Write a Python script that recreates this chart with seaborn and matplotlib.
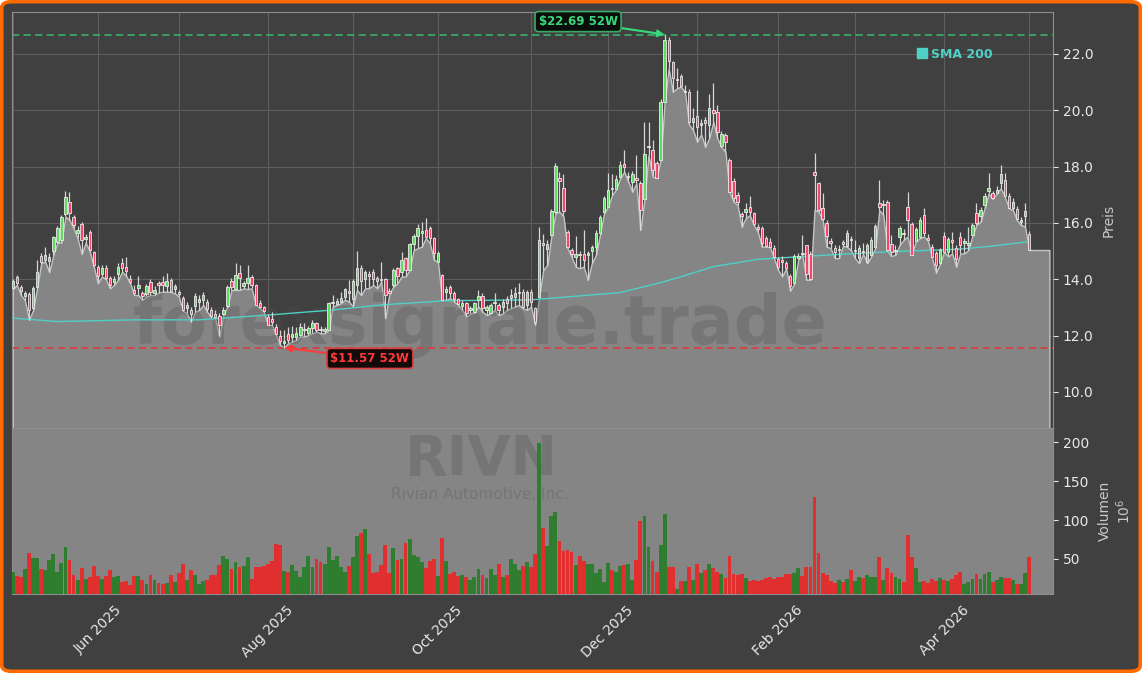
import numpy as np
import pandas as pd
import matplotlib
matplotlib.use("Agg")
import matplotlib.pyplot as plt
import seaborn as sns
from matplotlib.lines import Line2D
from matplotlib.patches import FancyBboxPatch
from matplotlib.ticker import FormatStrFormatter

# DATA
TICKER = "RIVN"
COMPANY = "Rivian Automotive, Inc."
WATERMARK = "forexsignale.trade"

START, END = "2025-05-01", "2026-05-01"
HOLIDAYS = ["2025-05-26", "2025-06-19", "2025-07-04", "2025-09-01", "2025-11-27",
            "2025-12-25", "2026-01-01", "2026-01-19", "2026-02-16", "2026-04-03"]

OPEN = [
    13.70, 14.07, 13.72, 13.40, 13.47, 12.97, 13.72, 14.82, 14.70, 14.65,
    15.00, 15.34, 15.40, 16.32, 16.74, 16.20, 15.65, 15.97, 15.42, 15.68,
    14.96, 14.43, 14.19, 14.39, 14.04, 13.92, 14.20, 14.59, 14.45, 14.00,
    13.62, 13.70, 13.50, 13.48, 13.92, 13.53, 13.86, 13.92, 13.76, 13.98,
    13.65, 13.56, 13.33, 12.97, 12.91, 13.05, 13.20, 13.25, 13.20, 12.90,
    12.78, 12.70, 12.77, 13.05, 13.95, 13.65, 14.24, 13.75, 13.86, 14.07,
    13.80, 13.15, 13.00, 12.65, 12.60, 12.30, 12.00, 11.75, 12.05, 11.95,
    11.94, 12.03, 12.20, 12.08, 12.26, 12.46, 12.25, 12.15, 12.20, 13.15,
    13.13, 13.21, 13.36, 13.60, 13.30, 13.80, 14.39, 14.00, 14.20, 14.25,
    14.05, 14.00, 14.00, 13.60, 13.80, 14.39, 14.27, 14.75, 14.33, 15.24,
    15.54, 15.66, 15.75, 15.81, 15.46, 14.63, 14.16, 13.56, 13.74, 13.53,
    13.29, 13.05, 13.15, 12.90, 12.85, 13.27, 13.42, 12.90, 12.82, 13.15,
    13.09, 13.00, 13.30, 13.35, 13.38, 13.50, 13.56, 13.09, 13.56, 12.97,
    13.38, 15.30, 15.07, 15.57, 16.40, 17.60, 17.23, 15.69, 15.04, 14.80,
    14.90, 14.90, 14.85, 15.00, 15.16, 15.63, 16.40, 16.58, 17.25, 17.21,
    17.64, 18.08, 17.62, 17.47, 17.60, 17.41, 16.85, 18.68, 18.60, 18.12,
    18.24, 20.31, 22.50, 21.70, 21.08, 21.23, 20.66, 20.66, 19.60, 19.81,
    19.48, 19.66, 19.48, 20.00, 19.93, 18.75, 19.12, 18.24, 17.50, 17.00,
    16.31, 16.40, 16.55, 16.34, 15.87, 15.83, 15.46, 15.34, 15.10, 14.71,
    14.70, 14.57, 14.12, 13.88, 14.75, 14.95, 15.20, 14.90, 17.80, 17.43,
    16.52, 15.99, 15.37, 15.10, 15.05, 15.34, 15.18, 15.42, 15.00, 14.75,
    15.02, 14.63, 14.86, 15.14, 16.70, 16.62, 16.76, 15.25, 15.00, 15.51,
    15.63, 16.56, 15.97, 15.37, 15.49, 16.29, 15.45, 15.16, 14.92, 14.57,
    15.54, 14.98, 15.40, 15.10, 15.49, 15.30, 15.20, 15.57, 16.34, 16.23,
    16.64, 17.14, 17.05, 17.08, 17.41, 17.53, 16.96, 16.52, 16.49, 16.05,
    16.23, 15.61,
]
HIGH = [
    14.00, 14.15, 13.80, 13.60, 13.55, 13.75, 14.69, 14.95, 15.16, 14.95,
    15.55, 15.90, 16.30, 17.15, 17.10, 16.30, 15.90, 16.05, 15.60, 15.75,
    15.00, 14.50, 14.50, 14.50, 14.10, 14.10, 14.57, 14.75, 14.78, 14.15,
    13.80, 14.10, 13.60, 13.85, 14.00, 13.75, 13.95, 14.10, 14.21, 14.05,
    13.85, 13.62, 13.40, 13.20, 13.00, 13.50, 13.45, 13.56, 13.30, 13.00,
    12.90, 12.80, 13.00, 13.80, 14.05, 14.57, 14.50, 13.95, 14.51, 14.15,
    13.85, 13.25, 13.05, 12.75, 12.85, 12.40, 12.20, 12.20, 12.30, 12.35,
    12.30, 12.45, 12.45, 12.35, 12.55, 12.50, 12.35, 12.30, 13.20, 13.44,
    13.35, 13.56, 13.70, 13.98, 14.00, 15.02, 14.50, 14.33, 14.30, 14.35,
    14.10, 14.63, 14.05, 13.70, 14.39, 14.45, 14.98, 14.80, 15.30, 15.60,
    15.96, 16.05, 16.17, 15.90, 15.50, 15.00, 14.20, 13.75, 13.80, 13.60,
    13.35, 13.25, 13.20, 13.05, 13.20, 13.62, 13.50, 13.10, 13.15, 13.50,
    13.15, 13.30, 13.40, 13.64, 13.74, 13.88, 13.65, 13.62, 13.65, 13.00,
    15.85, 15.60, 15.40, 16.50, 18.12, 17.80, 17.75, 15.75, 15.10, 15.52,
    15.00, 15.75, 15.00, 15.22, 15.75, 16.30, 16.95, 17.79, 17.75, 17.70,
    18.20, 18.59, 17.80, 17.85, 18.41, 17.50, 19.60, 19.60, 18.95, 18.20,
    20.40, 22.69, 22.60, 21.75, 21.51, 21.30, 20.90, 20.75, 20.07, 20.72,
    19.70, 19.75, 20.57, 20.96, 20.19, 19.25, 19.20, 18.30, 17.60, 17.10,
    16.40, 16.70, 16.94, 16.40, 15.95, 15.90, 15.55, 15.45, 15.20, 14.80,
    14.81, 14.65, 14.20, 14.90, 14.95, 15.57, 15.22, 15.00, 18.47, 17.47,
    17.08, 16.10, 15.45, 15.20, 15.20, 15.40, 15.75, 15.55, 15.40, 15.20,
    15.30, 15.30, 15.50, 15.95, 17.53, 16.82, 16.82, 15.57, 15.20, 15.90,
    15.80, 17.11, 16.05, 15.85, 16.20, 16.52, 15.60, 15.25, 15.00, 15.10,
    15.69, 15.50, 15.69, 15.20, 15.69, 15.45, 15.87, 16.00, 16.72, 16.55,
    17.05, 17.76, 17.15, 17.30, 18.06, 17.76, 17.05, 16.90, 16.60, 16.20,
    16.70, 15.70,
]
LOW = [
    13.65, 13.80, 13.45, 13.25, 12.56, 12.90, 13.70, 14.57, 14.63, 14.25,
    14.86, 15.30, 15.30, 16.23, 16.11, 15.81, 15.46, 14.90, 15.30, 15.00,
    14.45, 13.86, 14.10, 14.00, 13.68, 13.80, 13.98, 14.27, 14.12, 13.86,
    13.44, 13.44, 13.27, 13.39, 13.44, 13.44, 13.53, 13.56, 13.56, 13.55,
    13.50, 13.39, 12.88, 12.79, 12.50, 12.85, 12.91, 13.09, 12.85, 12.65,
    12.62, 11.97, 12.73, 13.03, 13.62, 13.62, 13.62, 13.68, 13.65, 13.68,
    13.09, 12.97, 12.85, 12.38, 12.38, 12.02, 11.67, 11.57, 11.73, 11.79,
    11.85, 11.97, 11.97, 12.02, 12.08, 12.14, 12.08, 12.08, 12.20, 13.03,
    13.09, 13.15, 13.27, 13.21, 13.03, 13.62, 13.44, 13.68, 13.68, 13.80,
    13.68, 13.92, 12.62, 13.50, 13.74, 13.86, 14.10, 14.10, 14.33, 15.04,
    15.10, 15.16, 15.46, 15.28, 14.69, 14.63, 13.27, 13.27, 13.33, 13.21,
    13.09, 12.91, 12.68, 12.79, 12.82, 13.03, 12.85, 12.73, 12.79, 12.91,
    12.73, 12.79, 12.91, 12.97, 13.03, 13.09, 12.97, 12.91, 13.03, 12.38,
    13.38, 14.33, 14.51, 15.52, 16.34, 16.40, 16.23, 15.10, 14.80, 14.45,
    14.39, 14.45, 13.98, 14.57, 14.86, 15.57, 16.34, 16.58, 16.99, 17.20,
    17.59, 17.82, 17.47, 17.11, 17.41, 15.75, 16.85, 18.41, 17.65, 17.59,
    18.24, 20.31, 21.49, 20.66, 20.78, 20.84, 20.66, 19.50, 19.30, 18.89,
    19.15, 18.71, 19.01, 19.60, 19.01, 18.70, 18.53, 17.11, 16.76, 16.64,
    15.87, 16.17, 16.28, 15.93, 15.69, 15.16, 15.16, 15.14, 14.75, 14.33,
    14.10, 14.39, 13.60, 13.85, 14.71, 14.87, 13.98, 13.98, 16.46, 16.40,
    16.11, 15.16, 15.10, 14.75, 14.75, 15.18, 15.16, 15.04, 14.75, 14.57,
    14.90, 14.57, 14.81, 15.10, 16.46, 16.28, 15.00, 14.83, 14.87, 15.22,
    15.40, 15.52, 14.86, 15.35, 15.46, 15.52, 15.38, 14.78, 14.24, 14.55,
    14.98, 14.81, 14.92, 14.45, 14.92, 14.92, 15.04, 15.55, 15.93, 16.05,
    16.52, 17.05, 16.85, 17.05, 17.23, 16.94, 16.52, 16.46, 16.10, 15.93,
    15.87, 15.04,
]
CLOSE = [
    13.95, 13.86, 13.57, 13.50, 12.90, 13.68, 14.27, 14.62, 14.85, 14.80,
    15.50, 15.81, 16.20, 16.91, 16.34, 15.91, 15.75, 15.40, 15.49, 15.04,
    14.51, 14.12, 14.39, 14.04, 13.78, 14.00, 14.45, 14.39, 14.30, 13.90,
    13.50, 13.80, 13.39, 13.76, 13.56, 13.62, 13.80, 13.80, 13.95, 13.59,
    13.76, 13.48, 12.91, 13.09, 12.77, 13.40, 13.30, 13.45, 12.95, 12.70,
    12.65, 12.38, 12.91, 13.72, 13.72, 14.15, 14.04, 13.86, 14.04, 13.80,
    13.09, 13.03, 12.89, 12.38, 12.50, 12.05, 11.80, 11.80, 11.85, 12.05,
    12.08, 12.32, 12.25, 12.26, 12.44, 12.20, 12.20, 12.25, 13.15, 13.20,
    13.24, 13.33, 13.65, 13.50, 13.95, 14.40, 13.95, 14.27, 14.10, 14.00,
    13.95, 13.98, 13.44, 13.50, 14.33, 14.10, 14.69, 14.33, 15.24, 15.52,
    15.81, 15.72, 15.50, 15.46, 14.92, 14.95, 13.27, 13.65, 13.53, 13.29,
    13.13, 13.15, 12.82, 12.97, 13.15, 13.42, 12.97, 13.00, 13.09, 13.20,
    12.90, 13.20, 13.15, 13.45, 13.50, 13.55, 13.00, 13.56, 13.21, 12.50,
    15.40, 15.22, 15.25, 16.43, 18.02, 17.50, 16.44, 15.14, 14.90, 14.90,
    14.85, 14.70, 14.92, 15.16, 15.63, 16.20, 16.88, 17.17, 17.20, 17.56,
    18.06, 17.97, 17.65, 17.73, 17.53, 16.46, 18.44, 18.72, 17.88, 17.61,
    20.31, 22.50, 21.75, 21.16, 21.12, 20.88, 20.68, 19.57, 19.72, 19.42,
    19.54, 19.55, 20.07, 19.90, 19.22, 19.15, 18.86, 17.11, 16.90, 16.75,
    16.23, 16.50, 16.40, 15.95, 15.79, 15.28, 15.18, 15.14, 14.78, 14.45,
    14.60, 14.39, 13.76, 14.81, 14.83, 14.90, 14.20, 14.00, 17.70, 16.46,
    16.13, 15.52, 15.28, 14.98, 15.08, 15.25, 15.63, 15.40, 15.04, 15.10,
    14.98, 15.22, 15.40, 15.89, 16.56, 16.66, 15.04, 14.98, 15.04, 15.81,
    15.60, 16.11, 14.86, 15.78, 16.11, 15.63, 15.40, 14.78, 14.51, 15.04,
    14.98, 15.42, 15.31, 14.71, 15.22, 15.35, 15.30, 15.93, 15.99, 16.46,
    16.94, 17.23, 16.88, 17.17, 17.74, 16.94, 16.52, 16.76, 16.13, 16.08,
    16.44, 15.04,
]
# volume in millions of shares
VOLUME = [
    33.7, 28.6, 27.3, 37.2, 58.1, 51.7, 51.7, 37.2, 35.9, 48.7,
    56.4, 33.7, 45.3, 65.8, 48.7, 29.5, 23.1, 38.4, 23.9, 27.3,
    41.0, 28.6, 24.3, 28.6, 35.9, 26.5, 28.6, 20.9, 21.8, 17.1,
    28.6, 28.6, 23.1, 18.3, 29.9, 23.1, 19.6, 17.5, 19.6, 29.9,
    20.9, 32.5, 43.6, 23.1, 35.9, 29.5, 18.3, 21.8, 23.1, 29.5,
    29.5, 42.3, 53.8, 50.4, 37.2, 46.1, 40.1, 41.0, 52.5, 24.3,
    40.1, 39.7, 41.0, 43.6, 47.4, 69.2, 68.3, 34.6, 33.3, 42.3,
    34.6, 27.3, 40.1, 53.8, 40.1, 50.4, 46.1, 44.0, 65.4, 48.7,
    53.8, 40.1, 33.3, 41.0, 52.5, 79.5, 83.7, 88.4, 56.4, 32.5,
    33.3, 42.3, 67.9, 32.1, 64.1, 48.7, 50.4, 70.5, 75.6, 55.1,
    53.0, 46.1, 38.4, 47.4, 50.0, 28.6, 76.9, 47.4, 30.7, 33.3,
    28.6, 29.5, 26.9, 23.1, 26.9, 37.2, 29.5, 26.0, 37.2, 29.5,
    43.6, 26.9, 29.5, 50.0, 43.6, 35.9, 41.0, 46.1, 39.7, 56.4,
    198.7, 89.7, 66.6, 105.1, 110.2, 73.1, 60.2, 61.5, 58.5, 42.3,
    53.8, 47.4, 43.2, 43.6, 32.5, 37.2, 20.5, 44.9, 35.4, 33.3,
    41.0, 42.7, 43.6, 23.1, 48.7, 98.7, 105.1, 65.4, 47.4, 33.3,
    67.9, 107.7, 39.7, 39.7, 11.5, 21.8, 21.8, 39.7, 23.1, 43.6,
    32.1, 35.9, 43.6, 38.4, 33.3, 30.7, 25.6, 53.8, 30.7, 29.5,
    30.7, 25.6, 21.8, 23.1, 21.8, 23.1, 25.2, 26.9, 24.3, 26.9,
    26.9, 30.7, 30.7, 32.1, 38.4, 28.2, 39.7, 39.7, 129.5, 57.7,
    32.1, 29.5, 21.8, 19.2, 23.1, 20.5, 24.3, 35.9, 21.8, 26.9,
    25.6, 29.5, 26.9, 26.9, 52.5, 23.1, 38.4, 32.1, 26.9, 24.3,
    20.5, 80.8, 52.5, 38.4, 20.5, 21.8, 19.2, 24.3, 21.8, 25.6,
    23.1, 21.8, 24.3, 29.5, 33.3, 17.9, 20.5, 24.3, 30.7, 24.3,
    30.7, 33.3, 20.5, 23.1, 26.9, 25.6, 25.6, 23.1, 17.9, 17.9,
    32.1, 52.5,
]
# 200-day simple moving average, sampled along the trading-day axis
SMA_IDX = [0, 11, 30, 46, 63, 79, 91, 107, 128, 140, 150, 160, 165, 173, 184, 201, 217, 234, 242, 251]
SMA_VAL = [12.62, 12.50, 12.56, 12.56, 12.73, 12.91, 13.09, 13.24, 13.27, 13.41,
           13.53, 13.88, 14.09, 14.45, 14.71, 14.86, 14.98, 15.07, 15.18, 15.34]

# STYLE
BG = "#404040"
FILL = "#858585"
LOWLINE = "#c4c4c4"
GRID = "#5e5e5e"
SPINE = "#8e8e8e"
TXT = "#e8e8e8"
LABEL = "#c8c8c8"
TEAL = "#4fd0c6"
UP_BODY, DOWN_BODY = "#63d963", "#f5466e"
BODY_EDGE, WICK = "#ececec", "#d6d6d6"
VOL_UP, VOL_DOWN = "#228b22", "#ff1010"
GREEN, GREEN_DASH = "#38d97c", "#3aa866"
RED, RED_DASH = "#ff3a3a", "#d84040"
ORANGE = "#ff6a00"
MARK = "#505050"
FILL_PAD = 5

sns.set_theme(style="dark")
plt.rcParams["font.family"] = ["DejaVu Sans"]

dates = pd.bdate_range(START, END, freq="C", holidays=HOLIDAYS)
idx = np.arange(len(dates))
open_, high, low, close = (np.array(a) for a in (OPEN, HIGH, LOW, CLOSE))
up = close >= open_

W_PX, H_PX = 1142, 673
fig = plt.figure(figsize=(W_PX / 100, H_PX / 100), dpi=100)
fig.patch.set_facecolor("white")
fig.add_artist(FancyBboxPatch((0.0015, 0.0025), 0.997, 0.995,
                              boxstyle="round,pad=0,rounding_size=0.009",
                              transform=fig.transFigure, facecolor=BG,
                              edgecolor=ORANGE, linewidth=2.6, zorder=-5))

left, width = 12 / W_PX, 1041 / W_PX
ax = fig.add_axes([left, 1 - 428 / H_PX, width, 416 / H_PX])
axv = fig.add_axes([left, 1 - 594 / H_PX, width, 166 / H_PX], sharex=ax)

# price panel
ax.set_facecolor(BG)
x_fill = np.arange(len(low) + FILL_PAD)
y_fill = np.concatenate([low, np.repeat(low[-1], FILL_PAD)])
ax.fill_between(x_fill, y_fill, 0, facecolor=FILL, edgecolor=LOWLINE, linewidth=1.0, zorder=1)

ax.text(0.4496, 0.2476, WATERMARK, transform=ax.transAxes, fontsize=48, fontweight="bold",
        color=MARK, alpha=0.3, ha="center", va="center", zorder=2)

sns.lineplot(x=SMA_IDX, y=SMA_VAL, ax=ax, color=TEAL, linewidth=1.0, zorder=3)

ax.vlines(idx, low, high, color=WICK, linewidth=0.9, zorder=4)
ax.bar(idx, np.maximum(np.abs(close - open_), 0.04), bottom=np.minimum(open_, close),
       width=0.6, color=np.where(up, UP_BODY, DOWN_BODY), edgecolor=BODY_EDGE,
       linewidth=0.6, zorder=5)

hi_i, lo_i = int(np.argmax(high)), int(np.argmin(low))
hi, lo = high[hi_i], low[lo_i]
ax.axhline(hi, color=GREEN_DASH, linestyle=(0, (4, 2.4)), linewidth=1.3, zorder=2.5)
ax.axhline(lo, color=RED_DASH, linestyle=(0, (4, 2.4)), linewidth=1.3, zorder=2.5)

ax.annotate(f"\\${hi:.2f} 52W", xy=(hi_i, hi), xytext=(139.6, 23.15),
            ha="center", va="center", fontsize=8.5, fontweight="bold", color=GREEN,
            bbox=dict(boxstyle="round,pad=0.3", fc="#0b0f0c", ec=GREEN_DASH, lw=1.2),
            arrowprops=dict(arrowstyle="-|>", color=GREEN, lw=1.5, mutation_scale=10,
                            shrinkA=0, shrinkB=0), zorder=8)
ax.annotate(f"\\${lo:.2f} 52W", xy=(lo_i, lo), xytext=(88.2, 11.19),
            ha="center", va="center", fontsize=8.5, fontweight="bold", color=RED,
            bbox=dict(boxstyle="round,pad=0.3", fc="#140a0a", ec=RED_DASH, lw=1.2),
            arrowprops=dict(arrowstyle="-|>", color=RED, lw=1.5, mutation_scale=10,
                            shrinkA=0, shrinkB=0), zorder=8)

handle = Line2D([], [], marker="s", linestyle="none", color=TEAL, markersize=7)
ax.legend([handle], ["SMA 200"], loc="center right", bbox_to_anchor=(0.942, 0.899),
          frameon=False, handletextpad=0.3, handlelength=0.8, borderaxespad=0,
          borderpad=0, prop={"weight": "bold", "size": 9}, labelcolor=TEAL)

ax.grid(True, color=GRID, linewidth=0.8, zorder=0)
ax.set_axisbelow(True)
ax.set_ylim(8.72, 23.49)
ax.set_yticks(np.arange(10, 23, 2))
ax.yaxis.set_major_formatter(FormatStrFormatter("%.1f"))
ax.yaxis.tick_right()
ax.yaxis.set_label_position("right")
ax.set_ylabel("Preis", color=LABEL, fontsize=10, labelpad=6)
ax.set_xlabel("")
ax.tick_params(axis="y", colors=TXT, labelsize=10, length=3.5, width=0.8, pad=3.5)
ax.tick_params(axis="x", labelbottom=False, length=0)

# volume panel
axv.set_facecolor(FILL)
axv.text(0.4505, 0.81, TICKER, transform=axv.transAxes, fontsize=40, fontweight="bold",
         color=MARK, alpha=0.3, ha="center", va="center", zorder=1)
axv.text(0.4496, 0.60, COMPANY, transform=axv.transAxes, fontsize=11,
         color=MARK, alpha=0.3, ha="center", va="center", zorder=1)

vol_df = pd.DataFrame({"day": idx, "vol": VOLUME, "dir": np.where(up, "up", "down")})
sns.barplot(data=vol_df, x="day", y="vol", hue="dir", palette={"up": VOL_UP, "down": VOL_DOWN},
            native_scale=True, width=0.95, dodge=False, legend=False, errorbar=None,
            linewidth=0, ax=axv, zorder=3)

axv.grid(False)
axv.set_ylim(5.1, 218)
axv.set_yticks([50, 100, 150, 200])
axv.yaxis.tick_right()
axv.yaxis.set_label_position("right")
axv.set_ylabel("Volumen\n$10^{6}$", color=LABEL, fontsize=10, labelpad=6)
axv.set_xlabel("")
axv.tick_params(axis="y", colors=TXT, labelsize=10, length=3.5, width=0.8, pad=3.5)

month_start = np.flatnonzero(np.r_[True, dates.month[1:] != dates.month[:-1]])
month_labels = [d.strftime("%b %Y") if d.month % 2 == 0 else "" for d in dates[month_start]]
axv.set_xticks(month_start)
axv.set_xticklabels(month_labels, rotation=45, ha="center")
axv.tick_params(axis="x", colors=TXT, labelsize=10, length=3.5, width=0.8, pad=3)
ax.set_xlim(-0.2, 256.9)

for a in (ax, axv):
    for s in a.spines.values():
        s.set_visible(True)
        s.set_color(SPINE)
        s.set_linewidth(0.8)

fig.savefig("out.png", dpi=100, facecolor=fig.get_facecolor())
